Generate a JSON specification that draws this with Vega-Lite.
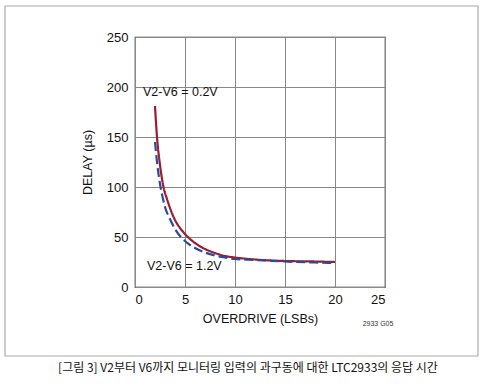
{
  "$schema": "https://vega.github.io/schema/vega-lite/v6.json",
  "width": 250,
  "height": 250,
  "autosize": {"type": "none"},
  "padding": {"left": 135, "top": 37, "right": 102, "bottom": 102},
  "background": "white",
  "config": {
    "font": "Liberation Sans",
    "view": {"stroke": "#222", "strokeWidth": 1.2}
  },
  "title": {
    "text": "[그림 3] V2부터 V6까지 모니터링 입력의 과구동에 대한 LTC2933의 응답 시간",
    "orient": "bottom",
    "anchor": "middle",
    "font": "Noto Sans CJK KR",
    "fontSize": 12,
    "fontWeight": "normal",
    "color": "#111",
    "dx": -12,
    "offset": 6
  },
  "datasets": {
    "curves": [
      {"od": 2, "delay": 181, "series": "V2-V6 = 0.2V"},
      {"od": 2.2, "delay": 150, "series": "V2-V6 = 0.2V"},
      {"od": 2.5, "delay": 122, "series": "V2-V6 = 0.2V"},
      {"od": 2.85, "delay": 100, "series": "V2-V6 = 0.2V"},
      {"od": 3.2, "delay": 88, "series": "V2-V6 = 0.2V"},
      {"od": 3.5, "delay": 79, "series": "V2-V6 = 0.2V"},
      {"od": 4, "delay": 67, "series": "V2-V6 = 0.2V"},
      {"od": 4.5, "delay": 59, "series": "V2-V6 = 0.2V"},
      {"od": 5, "delay": 53, "series": "V2-V6 = 0.2V"},
      {"od": 5.5, "delay": 48, "series": "V2-V6 = 0.2V"},
      {"od": 6, "delay": 44, "series": "V2-V6 = 0.2V"},
      {"od": 7, "delay": 38, "series": "V2-V6 = 0.2V"},
      {"od": 8, "delay": 34, "series": "V2-V6 = 0.2V"},
      {"od": 9, "delay": 31, "series": "V2-V6 = 0.2V"},
      {"od": 10, "delay": 29.5, "series": "V2-V6 = 0.2V"},
      {"od": 12, "delay": 27.5, "series": "V2-V6 = 0.2V"},
      {"od": 15, "delay": 26, "series": "V2-V6 = 0.2V"},
      {"od": 18, "delay": 25.5, "series": "V2-V6 = 0.2V"},
      {"od": 20, "delay": 25, "series": "V2-V6 = 0.2V"},
      {"od": 2, "delay": 145, "series": "V2-V6 = 1.2V"},
      {"od": 2.2, "delay": 125, "series": "V2-V6 = 1.2V"},
      {"od": 2.5, "delay": 103, "series": "V2-V6 = 1.2V"},
      {"od": 2.8, "delay": 88, "series": "V2-V6 = 1.2V"},
      {"od": 3, "delay": 80, "series": "V2-V6 = 1.2V"},
      {"od": 3.5, "delay": 68, "series": "V2-V6 = 1.2V"},
      {"od": 4, "delay": 58, "series": "V2-V6 = 1.2V"},
      {"od": 4.5, "delay": 51, "series": "V2-V6 = 1.2V"},
      {"od": 5, "delay": 46, "series": "V2-V6 = 1.2V"},
      {"od": 5.5, "delay": 42, "series": "V2-V6 = 1.2V"},
      {"od": 6, "delay": 39, "series": "V2-V6 = 1.2V"},
      {"od": 7, "delay": 34.5, "series": "V2-V6 = 1.2V"},
      {"od": 8, "delay": 31.5, "series": "V2-V6 = 1.2V"},
      {"od": 9, "delay": 29.5, "series": "V2-V6 = 1.2V"},
      {"od": 10, "delay": 28, "series": "V2-V6 = 1.2V"},
      {"od": 12, "delay": 27, "series": "V2-V6 = 1.2V"},
      {"od": 15, "delay": 25.5, "series": "V2-V6 = 1.2V"},
      {"od": 18, "delay": 24.5, "series": "V2-V6 = 1.2V"},
      {"od": 20, "delay": 24, "series": "V2-V6 = 1.2V"}
    ],
    "labels": [
      {"od": 0.8, "delay": 195, "label": "V2-V6 = 0.2V"},
      {"od": 1.2, "delay": 21, "label": "V2-V6 = 1.2V"}
    ],
    "note": [
      {"od": 24.3, "delay": -37, "label": "2933 G05"}
    ]
  },
  "layer": [
    {
      "data": {"values": [{"frame": "outer"}]},
      "mark": {"type": "rect", "filled": false, "stroke": "#aaa", "strokeWidth": 1.2, "clip": false},
      "encoding": {
        "x": {"datum": -13, "type": "quantitative"},
        "x2": {"datum": 34.3},
        "y": {"datum": 281, "type": "quantitative"},
        "y2": {"datum": -69}
      }
    },
    {
      "data": {"name": "curves"},
      "mark": {"type": "line", "strokeWidth": 2.2, "interpolate": "monotone"},
      "encoding": {
        "x": {
          "field": "od", "type": "quantitative",
          "scale": {"domain": [0, 25], "nice": false},
          "axis": {
            "title": "OVERDRIVE (LSBs)",
            "values": [0, 5, 10, 15, 20, 25],
            "grid": true, "gridColor": "#888", "gridWidth": 1, "gridOpacity": 1,
            "domain": false, "ticks": false,
            "labelPadding": 6, "labelFontSize": 13, "labelColor": "#111",
            "labelFont": "Liberation Sans",
            "titleFontSize": 12.5, "titleFontWeight": "normal", "titleColor": "#111",
            "titlePadding": 6, "titleFont": "Liberation Sans"
          }
        },
        "y": {
          "field": "delay", "type": "quantitative",
          "scale": {"domain": [0, 250], "nice": false},
          "axis": {
            "title": "DELAY (µs)",
            "values": [0, 50, 100, 150, 200, 250],
            "grid": true, "gridColor": "#888", "gridWidth": 1, "gridOpacity": 1,
            "domain": false, "ticks": false,
            "labelPadding": 7, "labelFontSize": 13, "labelColor": "#111",
            "labelFont": "Liberation Sans",
            "titleFontSize": 12.5, "titleFontWeight": "normal", "titleColor": "#111",
            "titlePadding": 12, "titleFont": "Liberation Sans"
          }
        },
        "color": {
          "field": "series", "type": "nominal",
          "scale": {"domain": ["V2-V6 = 0.2V", "V2-V6 = 1.2V"], "range": ["#9b1c2e", "#2a4a9e"]},
          "legend": null
        },
        "strokeDash": {
          "field": "series", "type": "nominal",
          "scale": {"domain": ["V2-V6 = 0.2V", "V2-V6 = 1.2V"], "range": [[1, 0], [9, 4]]},
          "legend": null
        }
      }
    },
    {
      "data": {"name": "labels"},
      "mark": {"type": "text", "align": "left", "baseline": "middle", "fontSize": 12.5, "font": "Liberation Sans", "color": "#111"},
      "encoding": {
        "x": {"field": "od", "type": "quantitative"},
        "y": {"field": "delay", "type": "quantitative"},
        "text": {"field": "label"}
      }
    },
    {
      "data": {"name": "note"},
      "mark": {"type": "text", "align": "center", "baseline": "middle", "fontSize": 7, "font": "Liberation Sans", "color": "#333", "clip": false},
      "encoding": {
        "x": {"field": "od", "type": "quantitative"},
        "y": {"field": "delay", "type": "quantitative"},
        "text": {"field": "label"}
      }
    }
  ]
}
